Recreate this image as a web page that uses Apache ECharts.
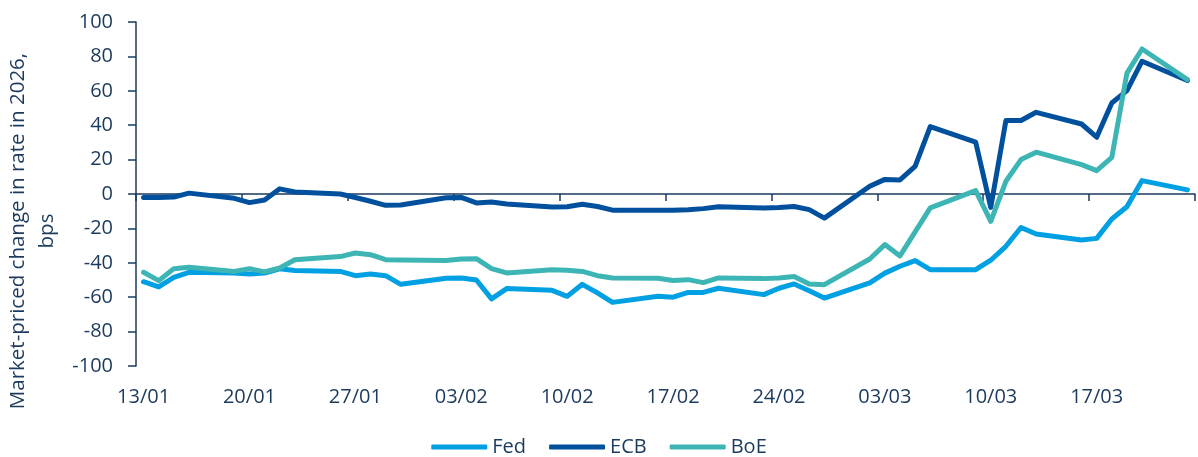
<!DOCTYPE html>
<html>
<head>
<meta charset="utf-8">
<script src="https://cdn.jsdelivr.net/npm/echarts@6/dist/echarts.min.js"></script>
<style>
  html, body { margin: 0; padding: 0; background: #fff; }
  #chart { width: 1198px; height: 457px; }
</style>
</head>
<body>
<div id="chart"></div>
<script>
// trading days (2026), weekends/holidays are left as gaps on the calendar axis
const tradeDates = [
  "2026-01-13", "2026-01-14", "2026-01-15", "2026-01-16",
  "2026-01-19", "2026-01-20", "2026-01-21", "2026-01-22", "2026-01-23",
  "2026-01-26", "2026-01-27", "2026-01-28", "2026-01-29", "2026-01-30",
  "2026-02-02", "2026-02-03", "2026-02-04", "2026-02-05", "2026-02-06",
  "2026-02-09", "2026-02-10", "2026-02-11", "2026-02-12", "2026-02-13",
  "2026-02-16", "2026-02-17", "2026-02-18", "2026-02-19", "2026-02-20",
  "2026-02-23", "2026-02-24", "2026-02-25", "2026-02-26", "2026-02-27",
  "2026-03-02", "2026-03-03", "2026-03-04", "2026-03-05", "2026-03-06",
  "2026-03-09", "2026-03-10", "2026-03-11", "2026-03-12", "2026-03-13",
  "2026-03-16", "2026-03-17", "2026-03-18", "2026-03-19", "2026-03-20",
  "2026-03-23"
];

const fed = [
  -51, -54, -48.5, -45.5,
  -46, -46.5, -46, -43.5, -44.5,
  -45, -47.5, -46.5, -47.5, -52.5,
  -49, -48.8, -50, -61, -55,
  -56, -59.5, -52.5, -57.5, -63,
  -59.5, -60, -57.2, -57.2, -54.8,
  -58.5, -54.8, -52.3, -56.2, -60.5,
  -51.7, -46, -42, -38.7, -44,
  -44, -38.5, -30.4, -19.5, -23.3,
  -26.7, -25.8, -14.5, -7.4, 7.8,
  2.4
];

const ecb = [
  -2, -2, -1.8, 0.5,
  -2.5, -5, -3.5, 3, 1.2,
  0, -2, -4.2, -6.6, -6.4,
  -2.2, -2, -5.2, -4.6, -5.8,
  -7.6, -7.4, -6, -7.3, -9.4,
  -9.4, -9.5, -9.1, -8.5, -7.4,
  -8.1, -7.8, -7.3, -9.1, -14,
  4.5, 8.5, 8.2, 16, 39.2,
  30.2, -7.8, 42.7, 42.7, 47.5,
  40.7, 33, 52.9, 60.1, 77.2,
  66
];

const boe = [
  -45.5, -50.4, -43.4, -42.6,
  -45, -43.4, -45.3, -43, -38.2,
  -36.4, -34.3, -35.3, -38.2, -38.4,
  -38.7, -37.8, -37.6, -43.4, -45.9,
  -44, -44.3, -45, -47.5, -48.8,
  -49, -50.3, -49.8, -51.5, -48.8,
  -49.2, -48.8, -48, -52.3, -52.7,
  -37.8, -29.4, -36, -22, -8.1,
  2, -15.9, 7.4, 20, 24.3,
  17.1, 13.6, 21.3, 70.3, 84.3,
  66.5
];

const yTicks = { min: -100, max: 100, step: 20 };

// calendar days from first to last trading day
const DAY = 86400000;
const start = Date.parse(tradeDates[0]);
const end = Date.parse(tradeDates[tradeDates.length - 1]);
const days = [];
for (let t = start; t <= end; t += DAY) days.push(t);
const pad = n => (n < 10 ? "0" + n : "" + n);
const dayLabels = days.map(t => {
  const d = new Date(t);
  return pad(d.getUTCDate()) + "/" + pad(d.getUTCMonth() + 1);
});

function onCalendar(values) {
  const out = days.map(() => null);
  tradeDates.forEach((s, i) => {
    out[Math.round((Date.parse(s) - start) / DAY)] = values[i];
  });
  return out;
}

const axisColor = "#1b3a5c";
const font = "Open Sans";

function lineSeries(name, color, values) {
  return {
    name: name,
    type: "line",
    xAxisIndex: 0,
    data: onCalendar(values),
    connectNulls: true,
    showSymbol: false,
    symbol: "none",
    color: color,
    lineStyle: { width: 5, color: color, cap: "round", join: "round" }
  };
}

const chart = echarts.init(document.getElementById("chart"));
chart.setOption({
  animation: false,
  textStyle: { fontFamily: font },
  grid: { left: 136, right: 3, top: 22, bottom: 91, containLabel: false, outerBoundsMode: "none" },
  legend: {
    top: 432,
    left: "center",
    icon: "roundRect",
    itemWidth: 56,
    itemHeight: 5,
    itemGap: 23,
    textStyle: { color: axisColor, fontSize: 20, fontFamily: font },
    data: ["Fed", "ECB", "BoE"]
  },
  xAxis: [
    {
      type: "category",
      data: dayLabels,
      boundaryGap: true,
      position: "bottom",
      axisLine: { onZero: true, lineStyle: { color: axisColor, width: 1.5 } },
      axisTick: { show: true, interval: 6, length: 7, lineStyle: { color: axisColor, width: 1.5 } },
      axisLabel: { show: false },
      splitLine: { show: false }
    },
    {
      type: "category",
      data: dayLabels,
      boundaryGap: true,
      position: "bottom",
      axisLine: { show: false, onZero: false },
      axisTick: { show: false },
      axisLabel: {
        interval: 6,
        margin: 21,
        color: axisColor,
        fontSize: 20,
        fontFamily: font
      },
      splitLine: { show: false }
    }
  ],
  yAxis: {
    type: "value",
    min: yTicks.min,
    max: yTicks.max,
    interval: yTicks.step,
    name: "Market-priced change in rate in 2026,\nbps",
    nameLocation: "middle",
    nameRotate: 90,
    nameGap: 71,
    nameTextStyle: {
      color: axisColor,
      fontSize: 20.5,
      lineHeight: 29,
      fontFamily: font,
      padding: [0, 74, 0, 0]
    },
    axisLine: { show: true, lineStyle: { color: axisColor, width: 1.5 } },
    axisTick: { show: true, length: 8, lineStyle: { color: axisColor, width: 1.5 } },
    axisLabel: { margin: 23, color: axisColor, fontSize: 20, fontFamily: font },
    splitLine: { show: false }
  },
  series: [
    lineSeries("Fed", "#00a0e3", fed),
    lineSeries("ECB", "#00509e", ecb),
    lineSeries("BoE", "#3db5b5", boe)
  ]
});
</script>
</body>
</html>
